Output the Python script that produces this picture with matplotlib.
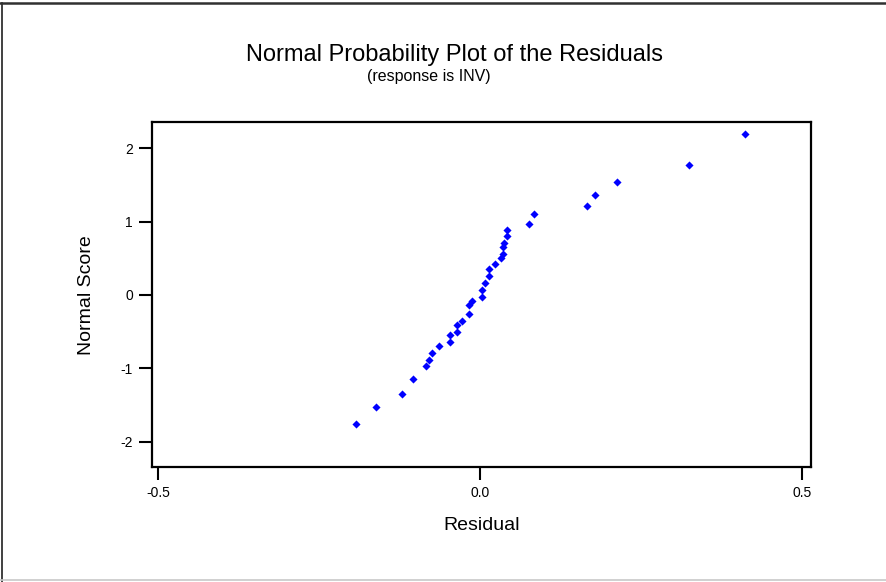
import matplotlib
matplotlib.use("Agg")
import matplotlib.pyplot as plt
from matplotlib.lines import Line2D

# residuals (x) and their normal scores (y)
residual = [-0.192, -0.161, -0.122, -0.104, -0.084, -0.080, -0.074, -0.063,
            -0.046, -0.046, -0.035, -0.035, -0.028, -0.017, -0.017, -0.013,
            0.003, 0.003, 0.007, 0.014, 0.014, 0.024, 0.032, 0.035,
            0.035, 0.038, 0.042, 0.042, 0.076, 0.084, 0.167, 0.178,
            0.213, 0.325, 0.412]
normal_score = [-1.76, -1.53, -1.35, -1.14, -0.97, -0.88, -0.79, -0.70,
                -0.645, -0.55, -0.50, -0.41, -0.35, -0.26, -0.14, -0.08,
                -0.03, 0.07, 0.16, 0.26, 0.36, 0.42, 0.50, 0.56,
                0.65, 0.71, 0.80, 0.89, 0.97, 1.10, 1.21, 1.36,
                1.54, 1.77, 2.19]

x_ticks = [-0.5, 0.0, 0.5]
x_ticklabels = ['-0.5', '0.0', '0.5']
y_ticks = [-2, -1, 0, 1, 2]

plt.rcParams['font.family'] = ['Liberation Sans', 'DejaVu Sans']
plt.rcParams['axes.unicode_minus'] = False

fig = plt.figure(figsize=(8.87, 5.82), dpi=100)
ax = fig.add_axes([0.171, 0.197, 0.743, 0.593])

ax.scatter(residual, normal_score, marker='D', s=17, color='#0000ff',
           linewidths=0, zorder=3)

ax.set_xlim(-0.5103, 0.514)
ax.set_ylim(-2.35, 2.355)
ax.set_xticks(x_ticks)
ax.set_xticklabels(x_ticklabels)
ax.set_yticks(y_ticks)
ax.tick_params(direction='out', length=9.5, width=1.5, labelsize=10, pad=4)
for sp in ax.spines.values():
    sp.set_linewidth(1.6)

ax.set_xlabel('Residual', fontsize=14, labelpad=12)
ax.set_ylabel('Normal Score', fontsize=14, labelpad=18)

fig.text(0.512, 0.906, 'Normal Probability Plot of the Residuals',
         ha='center', va='center', fontsize=17)
fig.text(0.483, 0.868, '(response is INV)', ha='center', va='center',
         fontsize=11.5)

# outer frame of the original graph window
fig.add_artist(Line2D([0.0025, 0.0025], [0.0, 0.994], color='#202020', lw=1.2))
fig.add_artist(Line2D([0.0, 1.0], [0.994, 0.994], color='#303030', lw=1.8))
fig.add_artist(Line2D([0.0, 1.0], [0.003, 0.003], color='#c8c8c8', lw=1.2))

fig.savefig('out.png', dpi=100)
